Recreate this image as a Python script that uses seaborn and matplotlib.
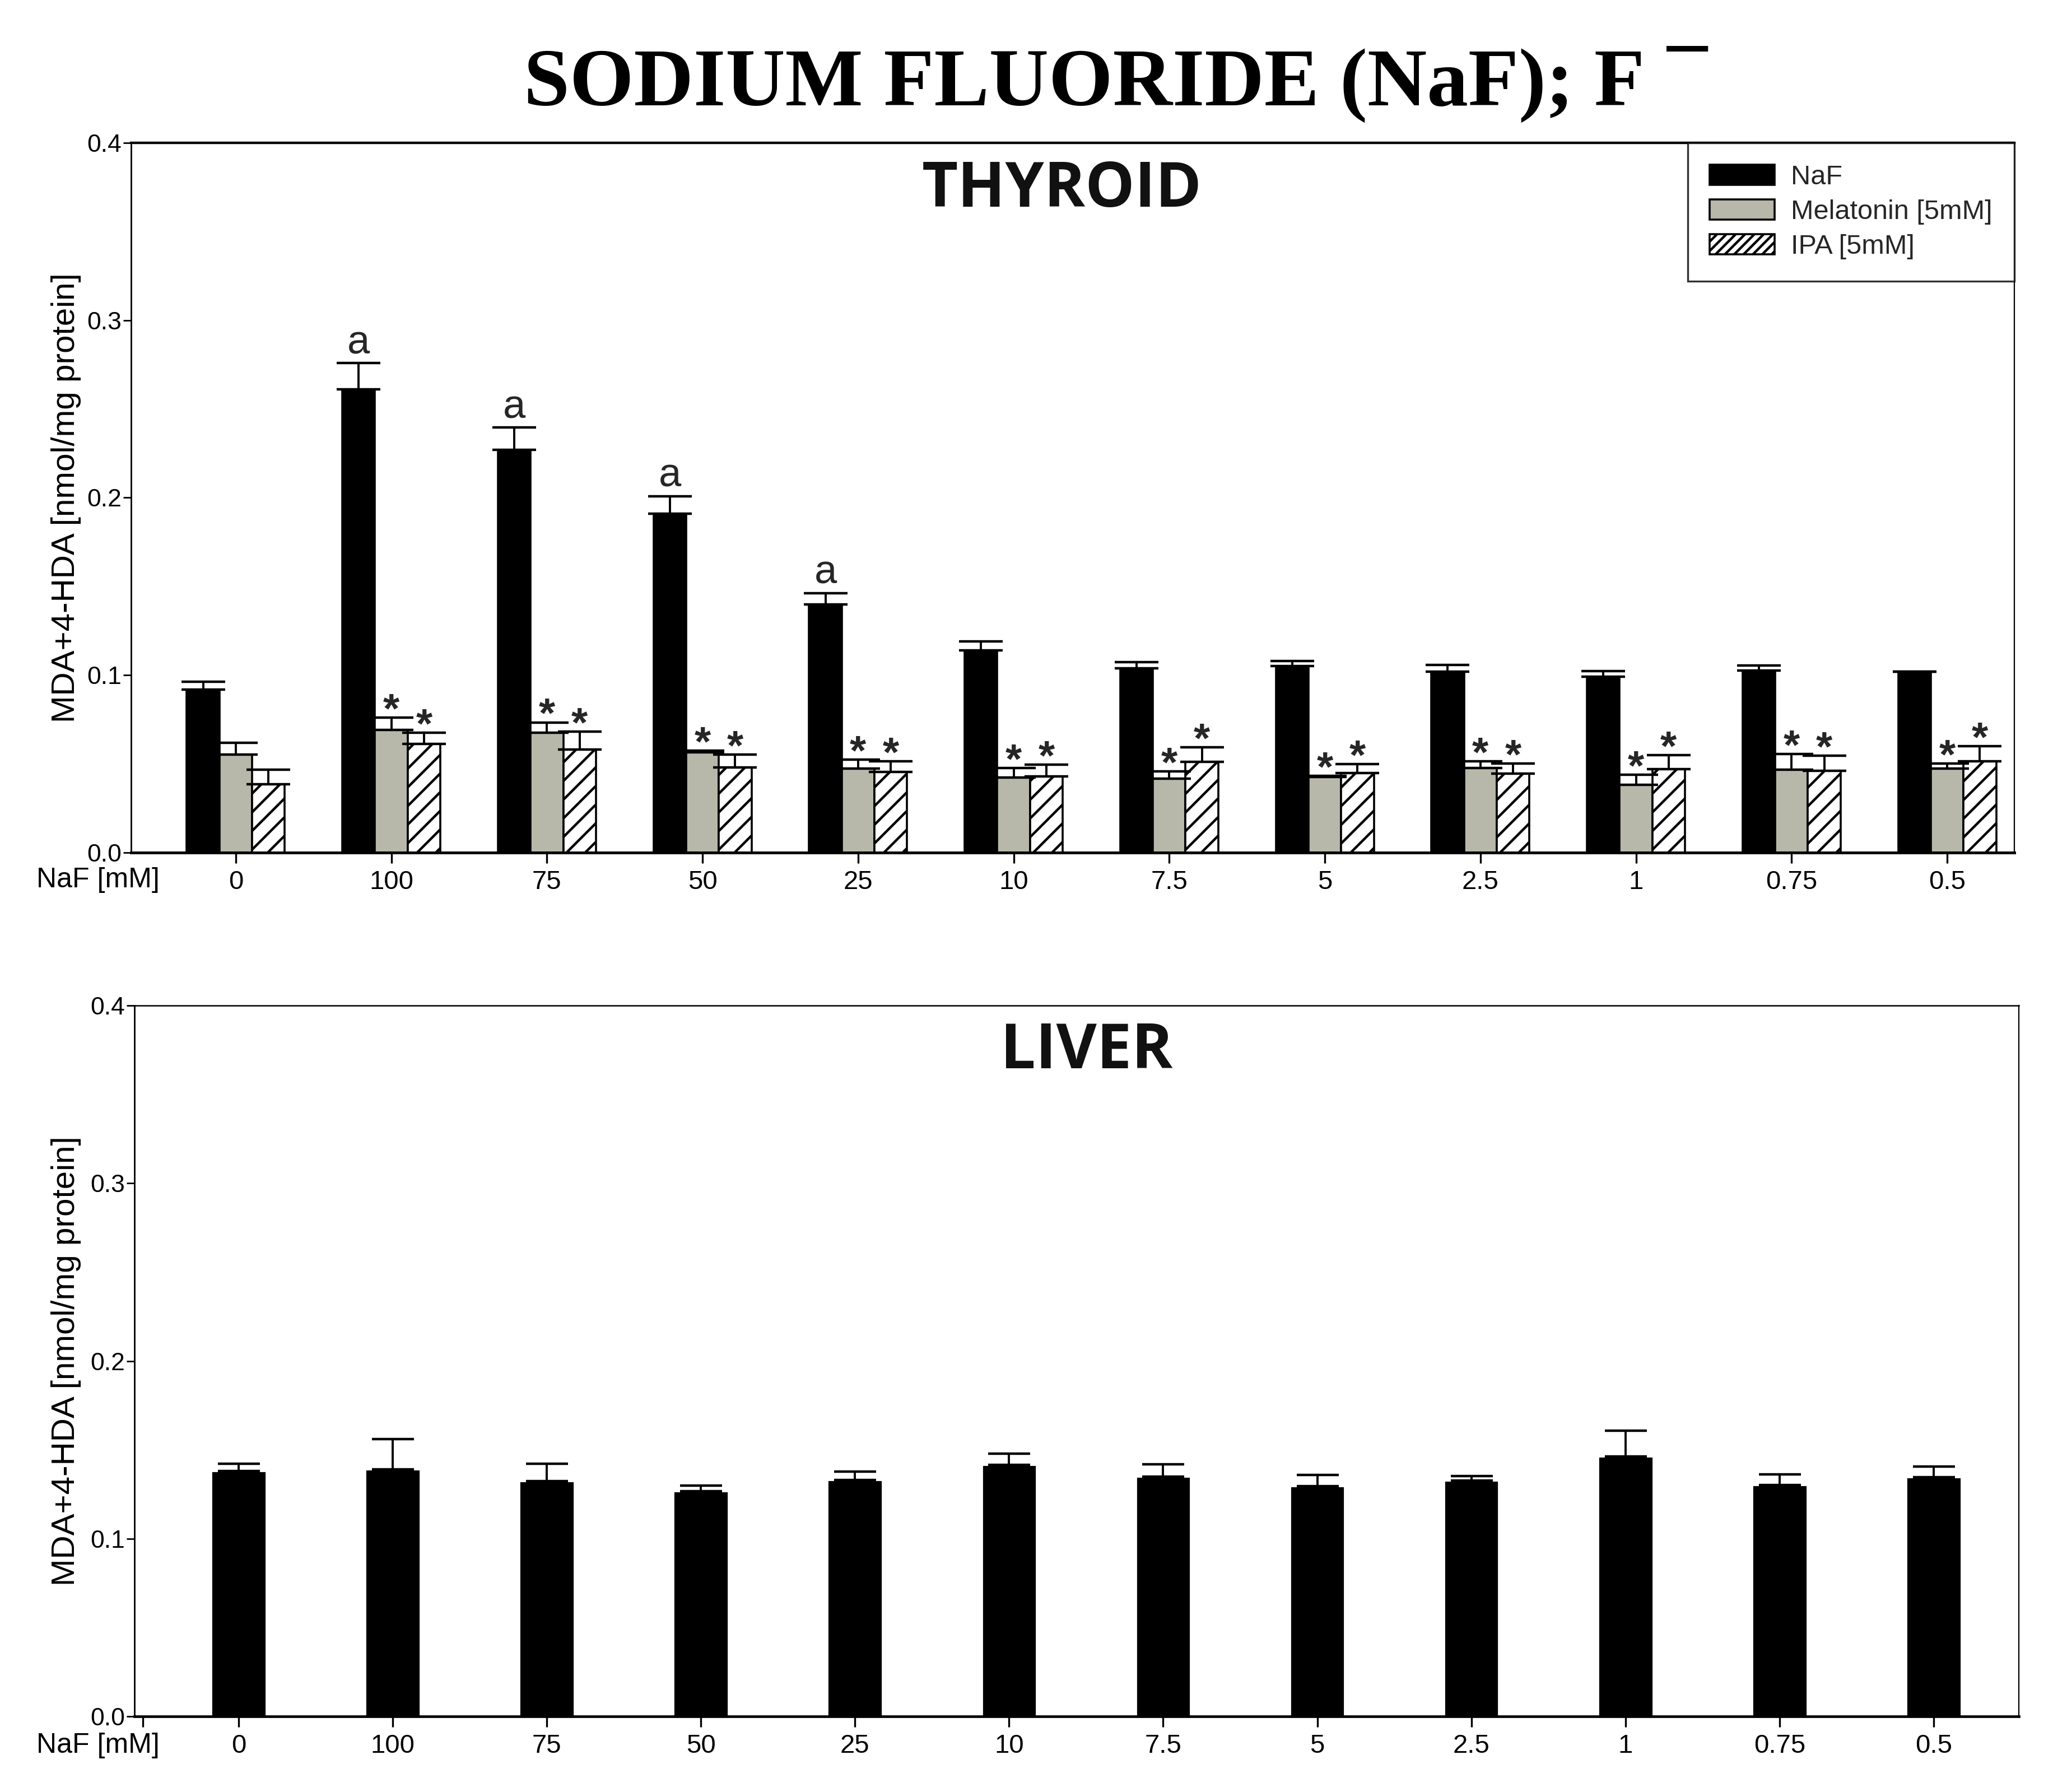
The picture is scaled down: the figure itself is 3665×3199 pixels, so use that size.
import matplotlib
matplotlib.use('Agg')
import matplotlib.pyplot as plt
import matplotlib.patches as mpatches
import numpy as np
import pandas as pd
import seaborn as sns

# ---------------- data ----------------
categories = ['0', '100', '75', '50', '25', '10', '7.5', '5', '2.5', '1', '0.75', '0.5']
series_names = ['NaF', 'Melatonin [5mM]', 'IPA [5mM]']

thyroid_naf = [0.092, 0.261, 0.227, 0.191, 0.140, 0.114, 0.104, 0.105, 0.102, 0.099, 0.1025, 0.102]
thyroid_naf_err = [0.0044, 0.015, 0.0127, 0.0099, 0.0063, 0.0051, 0.0034, 0.003, 0.0039, 0.0033, 0.0031, 0.0]
thyroid_mel = [0.0554, 0.0692, 0.0677, 0.0565, 0.0472, 0.0424, 0.0417, 0.0426, 0.0478, 0.0381, 0.0468, 0.0474]
thyroid_mel_err = [0.0064, 0.0068, 0.0057, 0.0011, 0.0052, 0.0054, 0.0040, 0.0006, 0.0036, 0.0057, 0.0089, 0.0028]
thyroid_ipa = [0.0385, 0.0614, 0.0582, 0.0481, 0.0456, 0.0430, 0.0511, 0.0448, 0.0444, 0.0469, 0.0462, 0.0514]
thyroid_ipa_err = [0.0081, 0.0061, 0.0099, 0.0073, 0.0058, 0.0066, 0.0084, 0.0051, 0.0058, 0.0079, 0.0083, 0.0085]

thyroid_naf_marks = ['', 'a', 'a', 'a', 'a', '', '', '', '', '', '', '']
thyroid_mel_marks = [''] + ['*'] * 11
thyroid_ipa_marks = [''] + ['*'] * 11

liver_naf = [0.1381, 0.1389, 0.1324, 0.1266, 0.1331, 0.1416, 0.1349, 0.1294, 0.1327, 0.1464, 0.1301, 0.1346]
liver_naf_err = [0.0041, 0.0172, 0.0097, 0.0032, 0.0046, 0.0062, 0.0069, 0.0063, 0.0026, 0.0143, 0.0062, 0.0061]

y_ticks = [0.0, 0.1, 0.2, 0.3, 0.4]
y_tick_labels = ['0.0', '0.1', '0.2', '0.3', '0.4']

colors = {'NaF': '#000000', 'Melatonin [5mM]': '#b8b8aa', 'IPA [5mM]': '#ffffff'}

# ---------------- style ----------------
sns.set_theme(style='ticks')
plt.rcParams['font.family'] = ['Liberation Sans', 'DejaVu Sans']
plt.rcParams['hatch.linewidth'] = 1.6
plt.rcParams['hatch.color'] = 'black'

W, H = 3665, 3199
DPI = 200
fig = plt.figure(figsize=(W / DPI, H / DPI), dpi=DPI, facecolor='white')


def fx(px):
    return px / W


def fy(py):
    return 1 - py / H


ax1 = fig.add_axes([fx(234), fy(1522), fx(3596 - 234), (1522 - 255) / H])
ax2 = fig.add_axes([fx(240), fy(3064), fx(3604 - 240), (3064 - 1795) / H])

# ---------------- thyroid ----------------
df_thy = pd.DataFrame({
    'conc': categories * 3,
    'value': thyroid_naf + thyroid_mel + thyroid_ipa,
    'group': sum([[s] * len(categories) for s in series_names], []),
})
sns.barplot(data=df_thy, x='conc', y='value', hue='group', order=categories,
            hue_order=series_names, palette=colors, width=0.63, errorbar=None,
            edgecolor='black', linewidth=1.3, saturation=1, legend=False, ax=ax1)

errs = [thyroid_naf_err, thyroid_mel_err, thyroid_ipa_err]
marks = [thyroid_naf_marks, thyroid_mel_marks, thyroid_ipa_marks]
bar_conts = list(ax1.containers)
for k, cont in enumerate(bar_conts):
    xs = [p.get_x() + p.get_width() / 2 for p in cont.patches]
    hs = [p.get_height() for p in cont.patches]
    if k == 2:
        for p in cont.patches:
            p.set_hatch('//')
            p.set_facecolor('white')
            p.set_edgecolor('black')
    e = errs[k]
    ax1.errorbar(xs, hs, yerr=[np.zeros(len(e)), e], fmt='none', ecolor='black',
                 elinewidth=1.4, capsize=14, capthick=1.6, zorder=5)
    for x, h, ee, m in zip(xs, hs, e, marks[k]):
        if m == 'a':
            ax1.annotate('a', xy=(x, h + ee), xytext=(0, 6), textcoords='offset points',
                         ha='center', va='baseline', fontsize=26)
        elif m == '*':
            ax1.annotate('*', xy=(x, h + ee), xytext=(0, -3), textcoords='offset points',
                         ha='center', va='baseline', fontsize=27, fontweight='bold')

ax1.set_xlim(-0.673, 11.432)
ax1.set_ylim(0, 0.4)

handles = [mpatches.Patch(facecolor=colors['NaF'], edgecolor='black', linewidth=1.3, label=series_names[0]),
           mpatches.Patch(facecolor=colors['Melatonin [5mM]'], edgecolor='black', linewidth=1.3, label=series_names[1]),
           mpatches.Patch(facecolor='white', edgecolor='black', hatch='////', linewidth=1.3, label=series_names[2])]
leg = ax1.legend(handles=handles, loc='upper right', bbox_to_anchor=(1, 1), borderaxespad=0,
                 fontsize=17.5, frameon=True, fancybox=False, edgecolor='black',
                 handlelength=2.4, handleheight=0.75, handletextpad=0.6, labelspacing=0.35,
                 borderpad=0.8)
leg.get_frame().set_linewidth(1.2)

# ---------------- liver ----------------
df_liv = pd.DataFrame({'conc': categories, 'value': liver_naf})
sns.barplot(data=df_liv, x='conc', y='value', order=categories, color='black',
            width=0.355, errorbar=None, saturation=1, ax=ax2)
for cont in list(ax2.containers):
    xs = [p.get_x() + p.get_width() / 2 for p in cont.patches]
    hs = [p.get_height() for p in cont.patches]
    ax2.errorbar(xs, hs, yerr=[np.zeros(len(liver_naf_err)), liver_naf_err], fmt='none',
                 ecolor='black', elinewidth=1.4, capsize=13.5, capthick=1.6, zorder=5)
ax2.set_xlim(-0.676, 11.553)
ax2.set_ylim(0, 0.4)

# ---------------- axes styling ----------------
for ax, lw in [(ax1, (1.0, 1.8, 1.6, 0.8)), (ax2, (1.0, 1.7, 0.9, 0.8))]:
    ax.set_facecolor('white')
    for s, w in zip(['left', 'bottom', 'top', 'right'], lw):
        ax.spines[s].set_visible(True)
        ax.spines[s].set_color('black')
        ax.spines[s].set_linewidth(w)
    ax.set_yticks(y_ticks)
    ax.set_yticklabels(y_tick_labels)
    ax.set_xticks(range(len(categories)))
    ax.set_xticklabels(categories)
    ax.tick_params(axis='x', which='both', length=6.8, width=1.2, pad=4.3, labelsize=17,
                   colors='black', direction='out')
    ax.tick_params(axis='y', length=5, width=1.0, pad=1, labelsize=16, colors='black',
                   direction='out')
    ax.set_xlabel('')
    ax.set_ylabel('MDA+4-HDA [nmol/mg protein]', fontsize=21, color='black')
    ax.grid(False)

ax2.set_xticks([-0.621], minor=True)
ax1.yaxis.set_label_coords(-0.0265, 0.5)
ax2.yaxis.set_label_coords(-0.0282, 0.5)

fig.text(fx(65), fy(1571), 'NaF [mM]', fontsize=18, ha='left', va='center', color='black')
fig.text(fx(65), fy(3116), 'NaF [mM]', fontsize=18, ha='left', va='center', color='black')

# panel titles
fig.text(fx(1896), fy(369), 'THYROID', fontsize=40, fontweight='bold', ha='center',
         va='baseline', family=['Open Sans', 'DejaVu Sans'], color='#111111')
fig.text(fx(1940), fy(1907), 'LIVER', fontsize=40, fontweight='bold', ha='center',
         va='baseline', family=['Open Sans', 'DejaVu Sans'], color='#111111')

# main title
t = fig.text(fx(935), fy(188), 'SODIUM FLUORIDE (NaF); F', fontsize=53, fontweight='bold',
             ha='left', va='baseline', family=['Liberation Serif', 'DejaVu Serif'], color='black')
fig.canvas.draw()
bb = t.get_window_extent(renderer=fig.canvas.get_renderer())
fig.text((bb.x1 + 40) / W, fy(86), '\u2013', fontsize=52, fontweight='bold', ha='left',
         va='center', family=['Liberation Serif', 'DejaVu Serif'], color='black')

fig.savefig('out.png', dpi=DPI, facecolor='white')
